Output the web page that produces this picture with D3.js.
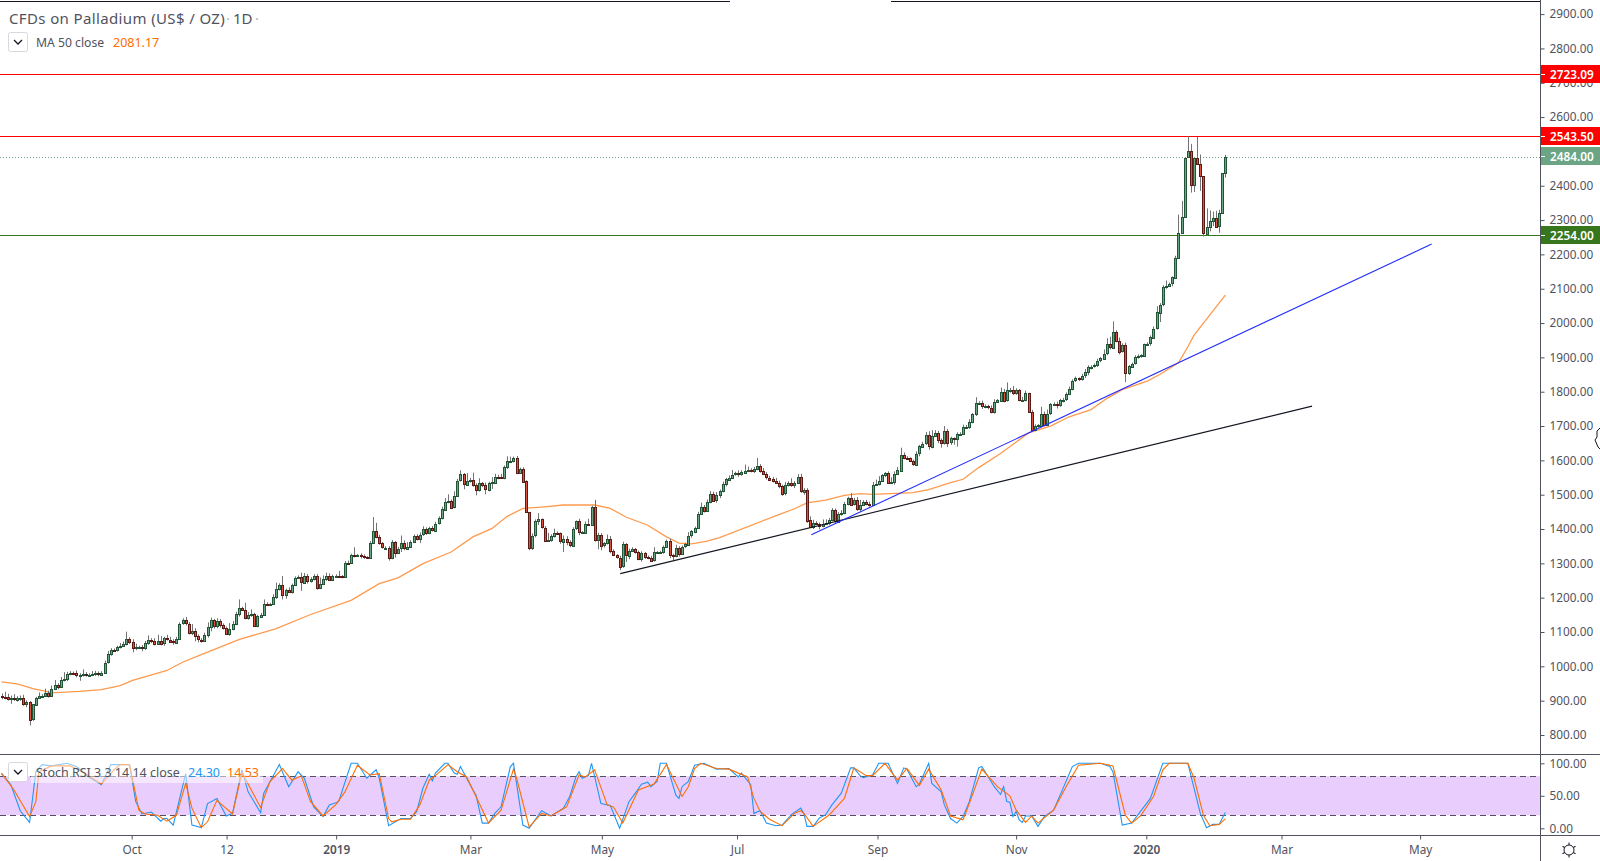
<!DOCTYPE html>
<html>
<head>
<meta charset="utf-8">
<title>CFDs on Palladium</title>
<script src="https://d3js.org/d3.v7.min.js"></script>
<style>
html, body { margin: 0; padding: 0; background: #fff; overflow: hidden; }
svg { display: block; font-family: "Noto Sans", sans-serif; }
</style>
</head>
<body>
<div id="chart"></div>
<script>
// daily closes
var closes = [
912,910,905,907,903,908,909,891,896,844,889,908,914,915,923,915,935,946,941,961,
963,978,981,980,974,975,977,974,976,977,981,977,982,1011,1035,1048,1047,1056,1060,1066,
1081,1071,1053,1056,1056,1052,1068,1078,1074,1066,1074,1066,1082,1078,1073,1070,1081,1124,1134,1124,
1097,1103,1087,1078,1075,1092,1114,1134,1116,1132,1121,1112,1095,1110,1124,1153,1170,1165,1141,1150,
1152,1118,1146,1151,1183,1180,1182,1202,1226,1238,1209,1223,1217,1238,1258,1259,1244,1264,1249,1254,
1264,1229,1241,1255,1263,1252,1264,1264,1263,1262,1302,1301,1325,1324,1324,1320,1318,1317,1360,1395,
1377,1359,1346,1346,1316,1362,1331,1343,1359,1343,1348,1363,1380,1371,1384,1400,1388,1403,1396,1416,
1432,1457,1480,1483,1464,1496,1541,1559,1530,1541,1544,1529,1514,1534,1527,1515,1535,1536,1553,1551,
1550,1581,1598,1599,1608,1564,1576,1539,1450,1346,1381,1422,1428,1404,1367,1369,1381,1389,1387,1363,
1371,1361,1352,1401,1422,1390,1390,1416,1414,1465,1369,1384,1352,1359,1372,1337,1324,1317,1292,1355,
1322,1337,1342,1334,1313,1330,1319,1317,1309,1333,1333,1333,1348,1366,1325,1323,1346,1328,1349,1355,
1381,1393,1404,1445,1465,1454,1480,1503,1483,1498,1510,1530,1545,1550,1558,1562,1560,1565,1570,1572,
1568,1575,1585,1570,1560,1550,1545,1540,1535,1525,1503,1527,1534,1527,1534,1552,1510,1515,1425,1406,
1419,1416,1409,1416,1418,1427,1455,1423,1445,1447,1474,1491,1472,1484,1459,1471,1479,1472,1471,1529,
1532,1540,1557,1562,1534,1537,1560,1571,1617,1607,1606,1598,1589,1620,1641,1649,1673,1641,1672,1680,
1659,1651,1686,1651,1664,1662,1676,1678,1698,1698,1712,1734,1766,1766,1758,1758,1754,1741,1770,1775,
1800,1775,1805,1805,1795,1805,1775,1777,1797,1741,1688,1700,1702,1736,1705,1736,1763,1763,1761,1775,
1777,1793,1809,1832,1839,1836,1846,1856,1871,1873,1877,1890,1897,1911,1938,1929,1975,1948,1917,1935,
1853,1874,1882,1900,1904,1906,1940,1940,1958,1984,2031,2054,2104,2108,2115,2133,2190,2263,2310,2482,
2500,2400,2480,2463,2427,2262,2281,2298,2307,2281,2320,2436,2484
];

// wick lengths above and below the body, same order as closes
var wickUp = [
6,14,10,8,12,5,6,8,5,3,0,3,10,4,12,6,9,14,5,8,
20,6,5,4,8,5,14,6,4,9,6,4,4,6,10,5,4,4,8,6,
20,4,8,10,4,6,6,12,4,8,18,14,4,10,8,6,5,4,6,10,
5,20,8,6,4,6,14,8,4,8,6,4,4,16,8,6,25,4,20,8,
14,4,4,5,12,4,3,8,18,4,25,3,7,3,4,6,14,8,5,6,
4,5,18,10,10,8,3,4,14,3,5,6,3,22,3,5,6,3,5,40,
23,6,3,4,4,6,3,5,22,8,14,4,4,5,6,8,5,4,6,5,
5,8,10,18,3,14,5,12,4,22,5,20,4,14,3,8,3,15,8,5,
10,4,14,12,3,5,3,4,3,0,6,6,18,3,5,20,4,12,4,3,
10,8,6,4,3,8,4,6,14,3,20,5,4,3,12,8,4,3,5,8,
4,6,5,3,3,5,3,4,5,14,3,4,4,3,6,3,8,4,3,5,
10,4,3,5,12,5,6,8,6,10,5,8,4,6,14,5,9,6,18,10,
5,6,22,4,8,6,5,7,9,6,4,10,5,14,6,8,9,4,4,12,
8,4,3,12,10,5,6,5,4,8,5,3,14,7,9,14,5,6,8,8,
12,14,3,4,6,14,8,10,20,6,5,3,4,6,4,5,10,12,16,8,
6,5,14,6,5,3,6,4,6,5,8,4,18,6,8,5,4,6,8,4,
12,8,22,6,12,5,3,8,6,0,6,5,4,20,6,12,4,6,8,4,
5,5,6,4,5,3,6,10,6,4,5,6,4,12,18,22,30,4,10,6,
8,4,3,6,5,3,0,4,6,6,18,4,6,16,3,3,6,53,46,0,
44,22,0,62,28,0,53,30,18,20,10,0,6
];
var wickDown = [
8,6,5,14,4,6,8,6,10,16,3,4,3,6,4,6,4,3,8,4,
5,6,4,5,6,16,5,4,4,3,5,6,4,3,3,4,5,4,4,3,
5,6,12,6,5,8,4,5,6,5,4,5,6,3,4,7,4,3,3,5,
4,6,14,8,6,4,8,12,6,5,8,5,3,6,5,4,8,4,4,5,
6,3,4,5,4,3,4,3,6,5,14,12,3,5,4,3,24,3,8,5,
4,6,4,3,6,3,4,3,5,6,5,3,3,7,4,6,5,3,4,3,
4,5,3,6,8,4,14,3,10,5,4,3,4,4,12,4,5,3,3,4,
3,4,3,5,4,4,3,3,14,4,6,6,16,5,5,14,5,18,4,6,
4,5,6,4,5,4,3,5,3,8,7,5,10,3,4,3,6,6,3,6,
30,8,5,4,4,8,4,3,4,5,6,28,14,6,4,8,3,3,12,5,
18,10,4,6,4,8,6,5,3,4,4,3,5,3,10,14,5,8,3,4,
3,6,5,4,4,6,3,5,4,6,8,3,6,5,4,3,8,5,4,4,
3,5,4,6,3,6,3,5,4,6,6,5,3,4,8,3,5,10,7,3,
6,3,10,4,3,6,4,8,5,6,4,5,4,3,6,8,4,3,6,4,
3,5,3,6,3,3,8,3,4,4,5,3,5,3,8,5,4,10,6,3,
9,14,5,12,6,16,22,5,4,3,6,4,5,3,8,6,5,4,5,3,
5,6,4,8,5,4,3,4,5,3,4,3,5,4,6,5,4,3,10,5,
6,4,3,5,4,5,4,6,8,6,3,5,4,3,5,6,5,4,8,3,
25,4,3,3,4,5,3,4,6,4,3,28,5,4,3,8,4,0,0,3,
0,20,18,0,42,10,8,14,15,3,18,0,12
];

// MA 50 close
var maBars = [0,5,8,10,14,16,25,32,38,42,53,58,64,76,88,99,112,121,127,135,144,151,157,162,167,173,180,190,195,200,207,213,217,221,226,230,249,254,258,264,270,275,279,292,297,304,308,313,320,329,336,342,349,354,359,367,371,377,380,382,387,392];
var maValues = [955,949,941,935,928,923,927,932,944,959,988,1012,1034,1078,1110,1151,1192,1241,1258,1299,1333,1377,1401,1437,1460,1464,1470,1470,1460,1435,1411,1377,1359,1357,1365,1375,1442,1459,1476,1484,1498,1503,1501,1506,1515,1535,1545,1579,1620,1680,1700,1727,1748,1780,1806,1831,1850,1884,1931,1965,2023,2081.17];

// Stoch RSI, turning points of both lines
var kBars = [0,3,6,9,11,13,16,21,24,28,32,35,41,43,45,48,51,52,53,55,59,61,64,66,69,72,74,77,79,83,84,89,92,95,97,100,103,105,108,112,114,117,120,121,124,128,131,133,135,137,138,139,142,143,145,146,147,149,151,152,154,156,158,160,163,164,167,169,173,176,180,182,184,185,186,188,189,192,195,198,201,203,205,207,208,210,211,213,216,217,218,220,222,225,229,233,236,237,240,241,243,245,248,250,253,256,257,258,260,262,264,266,269,272,273,275,276,279,281,284,287,289,290,293,294,297,298,301,302,304,306,308,310,313,314,318,320,321,322,323,324,325,326,327,328,330,332,334,337,340,343,345,352,355,356,359,362,368,372,380,384,386,388,390,392];
var kValues = [84,67,27,9,87,98,96,100,95,79,67,98,98,41,22,25,11,15,15,5,84,5,1,38,46,19,23,90,56,24,54,98,64,87,77,33,18,36,41,100,100,77,90,77,4,15,15,26,62,83,73,85,100,100,85,83,95,77,59,51,8,8,23,33,95,100,5,0,27,19,31,49,79,87,77,81,100,38,35,0,41,54,68,71,64,72,100,100,51,46,64,72,97,100,91,92,79,85,67,23,27,8,4,5,21,31,23,3,3,16,21,36,54,93,93,81,78,82,100,100,69,93,91,64,68,100,69,56,36,15,8,18,41,93,95,64,52,64,41,40,18,26,13,9,19,19,3,18,28,61,95,100,100,95,87,5,8,46,100,100,23,1,6,6,24.3];
var dBars = [0,4,9,11,12,16,22,26,32,36,38,41,44,46,50,53,56,59,61,64,66,69,74,77,83,86,90,93,96,99,103,107,110,114,118,121,124,125,128,131,134,137,139,143,146,149,152,156,160,164,165,169,173,176,181,185,187,190,194,196,199,204,209,213,218,220,222,224,229,233,239,241,243,246,250,254,256,257,260,265,270,272,273,277,279,283,287,290,294,297,301,304,308,311,314,319,323,325,328,330,332,337,341,345,352,356,357,360,362,365,369,372,374,380,382,385,387,390,392];
var dValues = [85,59,18,41,87,96,96,87,68,90,98,98,28,22,20,11,20,69,31,1,10,43,22,86,32,72,92,74,81,41,19,36,56,97,82,84,15,10,14,14,36,74,81,98,87,79,49,8,28,91,77,2,23,19,33,82,79,90,36,33,8,59,68,98,49,64,92,100,92,91,79,46,26,14,4,23,27,23,3,20,46,77,93,81,81,100,74,92,66,91,59,19,13,51,91,64,50,28,9,19,8,28,64,97,100,96,77,20,8,20,49,90,100,100,77,20,4,6,14.53];
var stochRefs = [80, 20];

// horizontal levels and trend lines
var levels = [2723.09, 2543.50, 2254.00];
var levelColors = ["#ff0000", "#ff0000", "#38761d"];
var lastPrice = 2484.00;
var blackBars = [198.2, 419.8], blackPrices = [1270, 1758];
var blueBars = [259.4, 458.1], bluePrices = [1383, 2230];

// axis labels
var priceTicks = d3.range(800, 2901, 100);
var stochTicks = [0, 50, 100];
var timeBars = [41.7, 72.1, 107.2, 150.2, 192.3, 235.6, 280.6, 325, 366.7, 410, 454.4];
var timeLabels = ["Oct", "12", "2019", "Mar", "May", "Jul", "Sep", "Nov", "2020", "Mar", "May"];

var W = 1600, H = 861, axisX = 1540, paneBottom = 754, stochBottom = 835;
var axisColor = "#50535e", textColor = "#50535e";

var svg = d3.select("#chart").append("svg").attr("width", W).attr("height", H);

var x = d3.scaleLinear().domain([0, closes.length - 1]).range([1.5, 1225.3]);
var y = d3.scaleLinear().domain([800, 2900]).range([735, 14.1]);
var yS = d3.scaleLinear().domain([0, 100]).range([828.3, 763.3]);

svg.append("defs").append("clipPath").attr("id", "main")
	.append("rect").attr("x", 0).attr("y", 2).attr("width", axisX).attr("height", paneBottom - 2);
svg.select("defs").append("clipPath").attr("id", "lower")
	.append("rect").attr("x", 0).attr("y", paneBottom).attr("width", axisX).attr("height", stochBottom - paneBottom);

var main = svg.append("g").attr("clip-path", "url(#main)");
var lower = svg.append("g").attr("clip-path", "url(#lower)");

// levels
main.selectAll("line.level").data(levels).enter().append("line")
	.attr("class", "level")
	.attr("x1", 0).attr("x2", axisX)
	.attr("y1", function(d){ return Math.floor(y(d)) + 0.5; })
	.attr("y2", function(d){ return Math.floor(y(d)) + 0.5; })
	.attr("stroke", function(d, i){ return levelColors[i]; });

main.append("line")
	.attr("x1", 0).attr("x2", axisX)
	.attr("y1", Math.round(y(lastPrice)) + 0.5).attr("y2", Math.round(y(lastPrice)) + 0.5)
	.attr("stroke", "#6ba583").attr("stroke-dasharray", "1,2");

// ma under the candles
var maLine = d3.line().x(function(d){ return x(d[0]); }).y(function(d){ return y(d[1]); });
main.append("path").datum(d3.zip(maBars, maValues))
	.attr("d", maLine).attr("fill", "none").attr("stroke", "#ff9a4d").attr("stroke-width", 1.3);

// candles
var candles = closes.map(function(c, i){
	var o = i == 0 ? 915 : closes[i - 1];
	return {i: i, o: o, c: c, h: Math.max(o, c) + (wickUp[i] || 0), l: Math.min(o, c) - (wickDown[i] || 0)};
});

var bar = main.selectAll("g.candle").data(candles).enter().append("g").attr("class", "candle")
	.attr("transform", function(d){ return "translate(" + (Math.round(x(d.i)) + 0.5) + ",0)"; });

bar.append("line")
	.attr("y1", function(d){ return y(d.h); })
	.attr("y2", function(d){ return y(d.l); })
	.attr("stroke", "#737375");

bar.append("rect")
	.attr("x", -1).attr("width", 2)
	.attr("y", function(d){ return Math.round(y(Math.max(d.o, d.c))) + 0.5; })
	.attr("height", function(d){ return Math.max(1, Math.round(Math.abs(y(d.o) - y(d.c)))); })
	.attr("fill", function(d){ return d.c >= d.o ? "#6ba583" : "#d75442"; })
	.attr("stroke", function(d){ return d.c >= d.o ? "#225437" : "#5b1a13"; });

// trend lines
[[blackBars, blackPrices, "#131722"], [blueBars, bluePrices, "#1f2bff"]].forEach(function(t){
	main.append("path").datum(d3.zip(t[0], t[1]))
		.attr("d", maLine).attr("fill", "none").attr("stroke", t[2]).attr("stroke-width", 1.1);
});

// stoch pane
lower.append("rect")
	.attr("x", 0).attr("width", axisX)
	.attr("y", yS(stochRefs[0])).attr("height", yS(stochRefs[1]) - yS(stochRefs[0]))
	.attr("fill", "#e9cefd");

lower.selectAll("line.ref").data(stochRefs).enter().append("line")
	.attr("class", "ref")
	.attr("x1", 0).attr("x2", axisX)
	.attr("y1", function(d){ return Math.round(yS(d)) + 0.5; })
	.attr("y2", function(d){ return Math.round(yS(d)) + 0.5; })
	.attr("stroke", "#55505f").attr("stroke-dasharray", "6,4");

var stochLine = d3.line().x(function(d){ return x(d[0]); }).y(function(d){ return yS(d[1]); });
lower.append("path").datum(d3.zip(kBars, kValues))
	.attr("d", stochLine).attr("fill", "none").attr("stroke", "#2196f3").attr("stroke-width", 1.1);
lower.append("path").datum(d3.zip(dBars, dValues))
	.attr("d", stochLine).attr("fill", "none").attr("stroke", "#ff6d00").attr("stroke-width", 1.1);

// frame
svg.append("line").attr("x1", 0).attr("x2", 730).attr("y1", 1.5).attr("y2", 1.5).attr("stroke", "#131722");
svg.append("line").attr("x1", 891).attr("x2", axisX).attr("y1", 1.5).attr("y2", 1.5).attr("stroke", "#131722");
svg.append("line").attr("x1", 0).attr("x2", W).attr("y1", paneBottom + 0.5).attr("y2", paneBottom + 0.5).attr("stroke", axisColor);

// axes
function styleAxis(g) {
	g.select(".domain").remove();
	g.selectAll("line").attr("stroke", axisColor);
	g.selectAll("text").attr("fill", textColor).style("font-size", "11.8px").style("font-family", '"Noto Sans", sans-serif');
}

svg.append("g").attr("transform", "translate(" + (axisX + 0.5) + ",0)")
	.call(d3.axisRight(y).tickValues(priceTicks).tickSize(4).tickPadding(5).tickFormat(d3.format(".2f")))
	.call(styleAxis);

svg.append("g").attr("transform", "translate(" + (axisX + 0.5) + ",0)")
	.call(d3.axisRight(yS).tickValues(stochTicks).tickSize(4).tickPadding(5).tickFormat(d3.format(".2f")))
	.call(styleAxis);

var timeAxis = svg.append("g").attr("transform", "translate(0," + (stochBottom + 0.5) + ")")
	.call(d3.axisBottom(x).tickValues(timeBars).tickSize(4).tickPadding(6).tickFormat(function(d, i){ return timeLabels[i]; }))
	.call(styleAxis);
timeAxis.selectAll("text").filter(function(d, i){ return timeLabels[i].length == 4; }).style("font-weight", "600");

svg.append("line").attr("x1", axisX + 0.5).attr("x2", axisX + 0.5).attr("y1", 0).attr("y2", H).attr("stroke", axisColor);
svg.append("line").attr("x1", 0).attr("x2", W).attr("y1", stochBottom + 0.5).attr("y2", stochBottom + 0.5).attr("stroke", axisColor);

// price badges
var badges = [
	{v: levels[0], c: levelColors[0]},
	{v: levels[1], c: levelColors[1]},
	{v: lastPrice, c: "#6ba583"},
	{v: levels[2], c: levelColors[2]}
];
var badge = svg.selectAll("g.badge").data(badges).enter().append("g").attr("class", "badge")
	.attr("transform", function(d){ return "translate(" + (axisX + 1) + "," + Math.floor(y(d.v)) + ")"; });
badge.append("rect").attr("x", 0).attr("y", -9).attr("width", W - axisX).attr("height", 18)
	.attr("fill", function(d){ return d.c; });
badge.append("line").attr("x1", 0).attr("x2", 4).attr("y1", 0.5).attr("y2", 0.5).attr("stroke", "#fff");
badge.append("text").attr("x", 9).attr("y", 4.5).attr("fill", "#fff")
	.style("font-size", "11.8px").style("font-weight", "600")
	.text(function(d){ return d3.format(".2f")(d.v); });

// legends
function chevronButton(bx, by) {
	svg.append("rect").attr("x", bx + 0.5).attr("y", by + 0.5).attr("width", 19).attr("height", 19).attr("rx", 2)
		.attr("fill", "#fff").attr("stroke", "#d6d8e0");
	svg.append("path").attr("d", "M" + (bx + 6) + "," + (by + 8) + "l4,4l4,-4")
		.attr("fill", "none").attr("stroke", "#131722").attr("stroke-width", 1.3);
}

svg.append("text").attr("x", 9).attr("y", 24).attr("fill", "#50535e").style("font-size", "15px").style("letter-spacing", "0.37px")
	.text("CFDs on Palladium (US$ / OZ)");
svg.append("text").attr("x", 226).attr("y", 24).attr("fill", "#b2b5be").style("font-size", "15px").text("·");
svg.append("text").attr("x", 233).attr("y", 24).attr("fill", "#50535e").style("font-size", "15px").text("1D");
svg.append("text").attr("x", 255).attr("y", 24).attr("fill", "#b2b5be").style("font-size", "15px").text("·");
chevronButton(8, 32);
svg.append("text").attr("x", 36).attr("y", 47).attr("fill", "#50535e").style("font-size", "12.2px").text("MA 50 close");
svg.append("text").attr("x", 113).attr("y", 47).attr("fill", "#ff6d00").style("font-size", "12.5px").text("2081.17");

svg.append("rect").attr("x", 31).attr("y", 762).attr("width", 232).attr("height", 21).attr("fill", "#fff").attr("fill-opacity", 0.5);
chevronButton(8, 762);
svg.append("text").attr("x", 36).attr("y", 777).attr("fill", "#50535e").style("font-size", "12.5px").text("Stoch RSI 3 3 14 14 close");
svg.append("text").attr("x", 188).attr("y", 777).attr("fill", "#2196f3").style("font-size", "12.5px").text("24.30");
svg.append("text").attr("x", 227).attr("y", 777).attr("fill", "#ff6d00").style("font-size", "12.5px").text("14.53");

// settings gear
var gear = svg.append("g").attr("transform", "translate(1569,850)").attr("fill", "none").attr("stroke", "#131722");
gear.append("circle").attr("r", 5);
d3.range(0, 360, 60).forEach(function(a){
	gear.append("line").attr("x1", 5).attr("x2", 7.5).attr("transform", "rotate(" + (a + 30) + ")");
});

// mouse pointer caught at the right edge
svg.append("path").attr("d", "M1600,428l-3,3v6l-2,3l3,7l2,2")
	.attr("fill", "#fff").attr("stroke", "#131722");
</script>
</body>
</html>
